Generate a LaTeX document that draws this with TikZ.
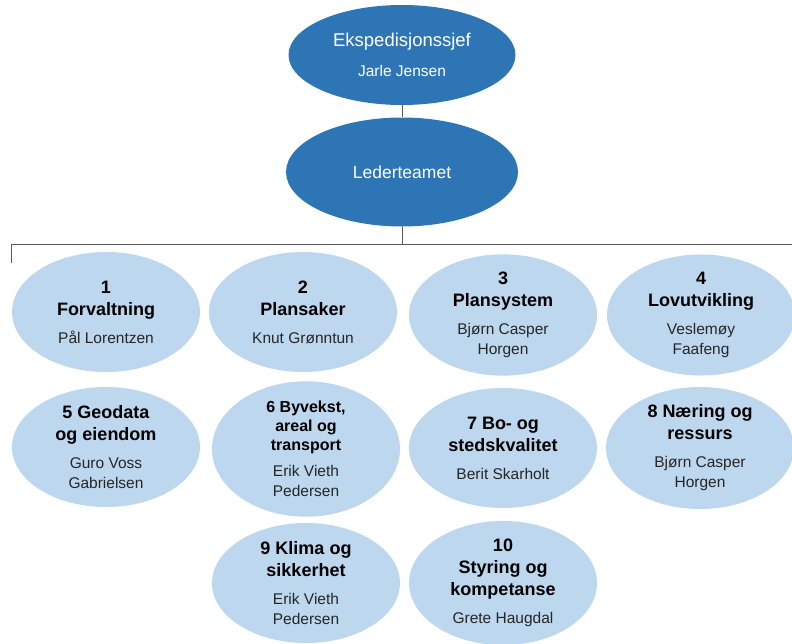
\documentclass[tikz,border=0pt]{standalone}
\usepackage{fontspec}
\setmainfont{Liberation Sans}
\usetikzlibrary{shapes.geometric}
\definecolor{darkblue}{HTML}{2E75B6}
\definecolor{lightblue}{HTML}{BDD7EE}
\definecolor{linegray}{HTML}{5A5A5A}
\definecolor{nametext}{HTML}{262626}
\newcommand{\ttlbig}{\fontsize{18}{22}\selectfont\bfseries\color{black}}
\newcommand{\ttlsmall}{\fontsize{16}{19}\selectfont\bfseries\color{black}}
\begin{document}
\begin{tikzpicture}[x=1pt,y=-1pt,
  topell/.style={ellipse,fill=darkblue,draw=none,text=white,inner sep=0pt,align=center,font=\fontsize{15.5}{20}\selectfont},
  deptell/.style={ellipse,fill=lightblue,draw=none,inner sep=0pt,align=center,minimum width=188pt,minimum height=120pt,font=\fontsize{15.5}{20}\selectfont,text=nametext},
  conn/.style={draw=linegray,line width=0.8pt}]
\useasboundingbox (0,0) rectangle (792,643);
\begin{scope}
\clip (0,0) rectangle (792,643);
\node[topell,minimum width=227pt,minimum height=100pt] (chief) at (402,55)
  {{\fontsize{18.5}{22}\selectfont Ekspedisjonssjef}\\[10pt]Jarle Jensen};
\node[topell,minimum width=232pt,minimum height=109pt] (lead) at (402,172)
  {\fontsize{17.5}{21}\selectfont Lederteamet};
\coordinate (bar) at (402,244);
\coordinate (barL) at (11,244);
\coordinate (barLd) at (11,263);
\coordinate (barR) at (792,244);
\draw[conn] (chief.south) -- (lead.north);
\draw[conn] (lead.south) -- (bar);
\draw[conn] (barLd) -- (barL) -- (barR);

\node[deptell] (u1) at (106,312) {\ttlbig 1\\[2pt]\ttlbig Forvaltning\\[8pt]Pål Lorentzen};
\node[deptell] (u2) at (303,312) {\ttlbig 2\\[2pt]\ttlbig Plansaker\\[8pt]Knut Grønntun};
\node[deptell] (u3) at (503,315) {\ttlbig 3\\[2pt]\ttlbig Plansystem\\[8pt]Bjørn Casper\\Horgen};
\node[deptell] (u4) at (701,315) {\ttlbig 4\\[2pt]\ttlbig Lovutvikling\\[8pt]Veslemøy\\Faafeng};
\node[deptell] (u5) at (106,447) {\ttlbig 5 Geodata\\[2pt]\ttlbig og eiendom\\[8pt]Guro Voss\\Gabrielsen};
\node[deptell] (u6) at (306,449) {\ttlsmall 6 Byvekst,\\[-1pt]\ttlsmall areal og\\[-1pt]\ttlsmall transport\\[6pt]Erik Vieth\\Pedersen};
\node[deptell] (u7) at (503,448) {\ttlbig 7 Bo- og\\[2pt]\ttlbig stedskvalitet\\[8pt]Berit Skarholt};
\node[deptell] (u8) at (700,448) {\ttlbig 8 Næring og\\[2pt]\ttlbig ressurs\\[8pt]Bjørn Casper\\Horgen};
\node[deptell] (u9) at (306,583) {\ttlbig 9 Klima og\\[2pt]\ttlbig sikkerhet\\[8pt]Erik Vieth\\Pedersen};
\node[deptell] (u10) at (503,583) {\ttlbig 10\\[2pt]\ttlbig Styring og\\[2pt]\ttlbig kompetanse\\[8pt]Grete Haugdal};
\end{scope}
\end{tikzpicture}
\end{document}
